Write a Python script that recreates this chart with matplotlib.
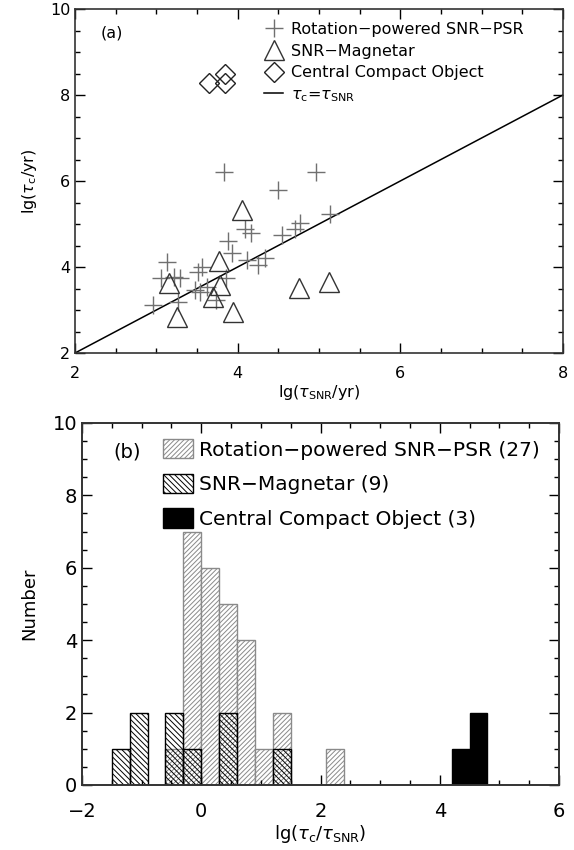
import numpy as np
import matplotlib
matplotlib.use('Agg')
import matplotlib.pyplot as plt
from matplotlib.ticker import MultipleLocator
from matplotlib.patches import Patch
from matplotlib.lines import Line2D

plt.rcParams['font.family'] = ['DejaVu Sans']
plt.rcParams['mathtext.fontset'] = 'dejavusans'
plt.rcParams['hatch.linewidth'] = 0.7

# ---- panel (a): lg(tau_SNR) vs lg(tau_c) ----
psr_lgsnr = [3.83, 4.96, 4.50, 5.14, 4.77, 4.70, 4.54, 4.09, 4.17, 3.885,
             3.93, 4.11, 4.25, 4.34, 3.13, 3.06, 3.22, 3.29, 3.56, 3.51,
             3.48, 3.54, 3.62, 3.86, 3.73, 2.96, 3.27]
psr_lgtc = [6.21, 6.20, 5.80, 5.24, 5.02, 4.88, 4.75, 4.88, 4.78, 4.60,
            4.32, 4.16, 4.05, 4.20, 4.12, 3.75, 3.77, 3.74, 4.01, 3.89,
            3.47, 3.43, 3.54, 3.75, 3.23, 3.12, 3.19]

mag_lgsnr = [4.05, 3.77, 3.16, 3.78, 3.70, 3.25, 3.94, 4.75, 5.12]
mag_lgtc = [5.32, 4.14, 3.62, 3.58, 3.31, 2.84, 2.95, 3.52, 3.65]

cco_lgsnr = [3.65, 3.85, 3.85]
cco_lgtc = [8.28, 8.50, 8.28]

# ---- panel (b): histogram of lg(tau_c/tau_SNR), bin width 0.3 ----
bin_width = 0.3
psr_left = [-0.6, -0.3, 0.0, 0.3, 0.6, 0.9, 1.2, 2.1]
psr_count = [1, 7, 6, 5, 4, 1, 2, 1]
mag_left = [-1.5, -1.2, -0.6, -0.3, 0.3, 1.2]
mag_count = [1, 2, 2, 1, 2, 1]
cco_left = [4.2, 4.5]
cco_count = [1, 2]

fig = plt.figure(figsize=(5.74, 8.5), dpi=100)


def style_axes(ax, lw=1.2):
    for s in ax.spines.values():
        s.set_linewidth(lw)
        s.set_color('#333333')
    ax.tick_params(which='both', direction='in', top=True, right=True,
                   color='black')
    ax.tick_params(which='major', length=7, width=1)
    ax.tick_params(which='minor', length=3.5, width=1)


# ---------------- top panel ----------------
ax1 = fig.add_axes([0.1307, 0.5847, 0.850, 0.4047])
ax1.plot([2, 8], [2, 8], color='black', lw=1.1)
ax1.plot(psr_lgsnr, psr_lgtc, ls='none', marker='+', ms=13, mew=1.0,
         color='#707070')
ax1.plot(mag_lgsnr, mag_lgtc, ls='none', marker='^', ms=14, mew=1.0,
         mfc='none', mec='#333333')
ax1.plot(cco_lgsnr, cco_lgtc, ls='none', marker='D', ms=10, mew=1.0,
         mfc='none', mec='#222222')
ax1.set_xlim(2, 8)
ax1.set_ylim(2, 10)
ax1.xaxis.set_major_locator(MultipleLocator(2))
ax1.xaxis.set_minor_locator(MultipleLocator(0.5))
ax1.yaxis.set_major_locator(MultipleLocator(2))
ax1.yaxis.set_minor_locator(MultipleLocator(0.5))
style_axes(ax1)
ax1.tick_params(labelsize=11.5)
ax1.tick_params(axis='x', pad=9)
ax1.set_xlabel(r'lg($\tau_{\mathrm{SNR}}$/yr)', fontsize=11.5, labelpad=2)
ax1.set_ylabel(r'lg($\tau_{\mathrm{c}}$/yr)', fontsize=11.5, labelpad=8)
ax1.text(2.45, 9.45, '(a)', fontsize=11.5, ha='center', va='center')

h1 = [Line2D([], [], ls='none', marker='+', ms=13, mew=1.0, color='#707070'),
      Line2D([], [], ls='none', marker='^', ms=14, mew=1.0, mfc='none',
             mec='#333333'),
      Line2D([], [], ls='none', marker='D', ms=10, mew=1.0, mfc='none',
             mec='#222222'),
      Line2D([], [], color='black', lw=1.1)]
l1 = ['Rotation\u2212powered SNR\u2212PSR', 'SNR\u2212Magnetar',
      'Central Compact Object', r'$\tau_{\mathrm{c}}$=$\tau_{\mathrm{SNR}}$']
ax1.legend(h1, l1, loc='upper left', bbox_to_anchor=(0.365, 0.995),
           frameon=False, fontsize=11.5, handlelength=1.2, handletextpad=0.45,
           labelspacing=0.42, borderpad=0.2)

# ---------------- bottom panel ----------------
ax2 = fig.add_axes([0.1429, 0.0765, 0.831, 0.4259])
ax2.bar(psr_left, psr_count, width=bin_width, align='edge', facecolor='white',
        edgecolor='#8a8a8a', hatch='///////', lw=1.0)
ax2.bar(mag_left, mag_count, width=bin_width, align='edge', facecolor='none',
        edgecolor='black', hatch='\\\\\\\\\\\\', lw=1.0)
ax2.bar(cco_left, cco_count, width=bin_width, align='edge', facecolor='black',
        edgecolor='black', lw=1.0)
ax2.set_xlim(-2, 6)
ax2.set_ylim(0, 10)
ax2.xaxis.set_major_locator(MultipleLocator(2))
ax2.xaxis.set_minor_locator(MultipleLocator(0.5))
ax2.yaxis.set_major_locator(MultipleLocator(2))
ax2.yaxis.set_minor_locator(MultipleLocator(0.5))
style_axes(ax2, lw=1.4)
ax2.tick_params(labelsize=14)
ax2.tick_params(axis='x', pad=12)
ax2.set_xlabel(r'lg($\tau_{\mathrm{c}}$/$\tau_{\mathrm{SNR}}$)', fontsize=13,
               labelpad=2)
ax2.set_ylabel('Number', fontsize=13, labelpad=10)
ax2.text(-1.25, 9.2, '(b)', fontsize=14, ha='center', va='center')

h2 = [Patch(facecolor='white', edgecolor='#8a8a8a', hatch='///////'),
      Patch(facecolor='white', edgecolor='black', hatch='\\\\\\\\\\\\'),
      Patch(facecolor='black', edgecolor='black')]
l2 = ['Rotation\u2212powered SNR\u2212PSR (27)', 'SNR\u2212Magnetar (9)',
      'Central Compact Object (3)']
ax2.legend(h2, l2, loc='upper left', bbox_to_anchor=(0.135, 1.0),
           frameon=False, fontsize=14.5, handlelength=1.5, handleheight=1.1,
           handletextpad=0.3, labelspacing=0.7, borderpad=0.3)

fig.savefig('out.png', dpi=100)
